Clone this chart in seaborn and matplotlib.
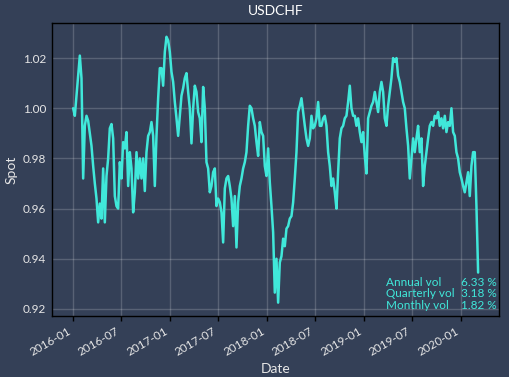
import numpy as np
import pandas as pd
import matplotlib
matplotlib.use("Agg")
import matplotlib.pyplot as plt
import matplotlib.dates as mdates
import seaborn as sns

# ---- data ----
start_date = "2016-01-02"
end_date = "2020-03-06"
spot = [
    # 2016
    1.000, 0.997, 1.005, 1.013, 1.021, 1.012, 0.972, 0.993, 0.997, 0.995,
    0.990, 0.985, 0.977, 0.970, 0.964, 0.9545, 0.962, 0.956, 0.976, 0.9545,
    0.973, 0.980, 0.992, 0.9937, 0.988, 0.965, 0.961, 0.960, 0.9785, 0.972,
    0.9865, 0.984, 0.9905, 0.969,
    0.9825, 0.976, 0.9585, 0.9665, 0.9825, 0.972, 0.980, 0.972, 0.980, 0.967,
    0.9825, 0.989, 0.9905, 0.9945, 0.989, 0.969, 0.989, 1.004, 1.016, 1.016,
    1.009, 1.0225, 1.0285, 1.027, 1.0225, 1.0145, 1.0105, 1.0025, 0.996, 0.989,
    0.997, 1.005, 1.008, 1.012, 1.014, 1.0065, 1.000, 0.986, 1.000,
    # 2017
    1.009, 1.0065, 0.9985, 0.996, 0.9865, 1.0085, 1.000, 0.9785, 0.976, 0.9665,
    0.969, 0.9745, 0.976, 0.961, 0.964, 0.9625, 0.9585, 0.9465, 0.968, 0.972,
    0.973, 0.969, 0.964, 0.953, 0.965, 0.9445, 0.9625, 0.969, 0.972, 0.976,
    0.9785, 0.9825, 0.993, 1.001, 1.000, 0.996, 0.993, 0.9865, 0.981,
    # 2018
    0.9945, 0.9905, 0.989, 0.977, 0.973, 0.984, 0.9705, 0.961, 0.9505, 0.9265,
    0.940, 0.9225, 0.9385, 0.941, 0.948, 0.945, 0.952, 0.953, 0.956, 0.957,
    0.9625, 0.972, 0.9825, 0.9985, 1.001, 1.004, 0.9985, 0.993, 0.988, 0.985,
    0.988, 0.997, 0.992, 0.993, 0.996, 1.0025, 0.993, 0.993, 0.996,
    # 2019
    0.997, 0.993, 0.9825, 0.977, 0.969, 0.972, 0.9665, 0.960, 0.9745, 0.988,
    0.992, 0.993, 0.996, 0.997, 1.0025, 1.009, 1.000, 0.997, 0.997, 0.993,
    0.996, 0.9905, 0.9865, 0.9905, 0.981, 0.974, 0.996, 0.9985, 1.001, 1.0025,
    1.0065, 1.0025, 0.9985, 1.0065, 1.0105, 1.0065, 0.996, 0.993, 1.001,
    1.0065, 1.012, 1.020, 1.0185, 1.020, 1.013, 1.0105, 1.0065, 1.0025, 1.000,
    0.992, 0.985, 0.972, 0.980, 0.988, 0.9825, 0.988, 0.993, 0.9825, 0.988,
    0.969, 0.977, 0.9825, 0.988, 0.993, 0.9945, 0.993, 0.997, 0.996, 0.9985,
    0.993, 0.996, 0.992, 0.997, 0.9905, 0.9945, 0.993, 1.000, 0.9905,
    # 2020
    0.989, 0.9825, 0.980, 0.9745, 0.972, 0.969, 0.9665, 0.9705, 0.9745, 0.965,
    0.977, 0.9825, 0.9825, 0.961, 0.9345,
]
title = "USDCHF"
x_label = "Date"
y_label = "Spot"
vol_names = ["Annual vol", "Quarterly vol", "Monthly vol"]
vol_values = ["6.33 %", "3.18 %", "1.82 %"]
y_ticks = [0.92, 0.94, 0.96, 0.98, 1.00, 1.02]

dates = pd.date_range(start_date, end_date, periods=len(spot))
df = pd.DataFrame({"Date": dates, "Spot": spot})

# ---- style ----
bg = "#344057"
line_col = "#40E8DA"
txt_col = "#E6E6E6"
sns.set_style("dark")
plt.rcParams["font.family"] = ["Lato", "DejaVu Sans"]
plt.rcParams.update({
    "figure.facecolor": bg,
    "axes.facecolor": bg,
    "axes.edgecolor": "black",
    "axes.linewidth": 1.0,
    "text.color": txt_col,
    "axes.labelcolor": txt_col,
    "xtick.color": txt_col,
    "ytick.color": txt_col,
})

fig = plt.figure(figsize=(5.09, 3.77), dpi=100)
ax = fig.add_axes([0.102, 0.162, 0.878, 0.777])

sns.lineplot(data=df, x="Date", y="Spot", ax=ax, color=line_col, linewidth=1.8)

ax.set_xlim(pd.Timestamp("2015-10-14"), pd.Timestamp("2020-05-23"))
ax.set_ylim(0.9172, 1.034)
ax.set_yticks(y_ticks)
ax.yaxis.set_major_formatter(matplotlib.ticker.FormatStrFormatter("%.2f"))
ax.xaxis.set_major_locator(mdates.MonthLocator(bymonth=[1, 7]))
ax.xaxis.set_major_formatter(mdates.DateFormatter("%Y-%m"))
for lab in ax.get_xticklabels():
    lab.set_rotation(30)
    lab.set_ha("right")
ax.tick_params(axis="x", which="major", length=3.5, width=1, color="black", labelsize=8.5, labelcolor=txt_col, bottom=True)
ax.tick_params(axis="y", which="major", length=0, labelsize=8.5, labelcolor=txt_col, pad=4)
ax.grid(True, color="white", alpha=0.18, linewidth=1.0)
for s in ax.spines.values():
    s.set_color("black")
    s.set_visible(True)

ax.set_title(title, fontsize=10, color="white", pad=6)
ax.set_xlabel(x_label, fontsize=10)
ax.set_ylabel(y_label, fontsize=10)

ys = [0.113, 0.075, 0.037]
for name, val, yy in zip(vol_names, vol_values, ys):
    ax.text(0.747, yy, name, transform=ax.transAxes, color=line_col, fontsize=8.5, va="center", ha="left")
    ax.text(0.995, yy, val, transform=ax.transAxes, color=line_col, fontsize=8.5, va="center", ha="right")

fig.savefig("out.png", dpi=100, facecolor=bg)
